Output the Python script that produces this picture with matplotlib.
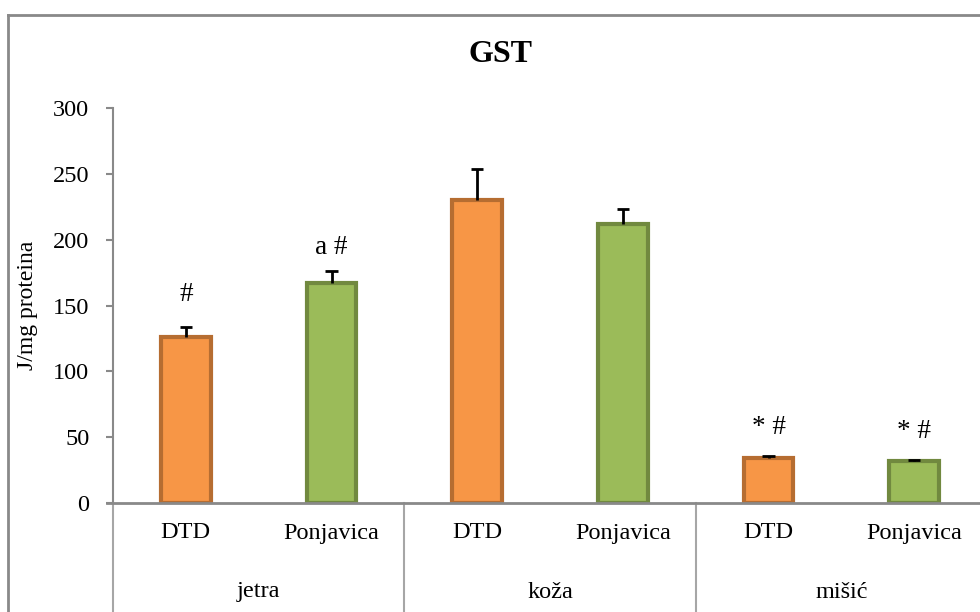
import matplotlib
matplotlib.use("Agg")
import matplotlib.pyplot as plt
from matplotlib.transforms import blended_transform_factory
from matplotlib.lines import Line2D

plt.rcParams['font.family'] = ['Liberation Serif', 'DejaVu Serif']

groups = ['jetra', 'koža', 'mišić']
sites = ['DTD', 'Ponjavica', 'DTD', 'Ponjavica', 'DTD', 'Ponjavica']
values = [126, 167, 230, 212, 34, 32]
errors = [8, 9, 24, 11, 2, 1]
marks = ['#', 'a #', '', '', '* #', '* #']
mark_y = [158, 194, None, None, 57, 54]
yticks = [0, 50, 100, 150, 200, 250, 300]

fills = ['#F79646', '#9BBB59'] * 3
edges = ['#B66D31', '#71893F'] * 3

W, H = 980, 612
fig = plt.figure(figsize=(W / 100, H / 100), dpi=100)
ax = fig.add_axes([113 / W, (H - 503) / H, (987 - 113) / W, 395 / H])

x = list(range(len(values)))
ax.bar(x, values, width=0.34, color=fills, edgecolor=edges, linewidth=3, zorder=2)
tops = [v + e for v, e in zip(values, errors)]
cap = 0.042
ax.vlines(x, values, tops, colors='black', linewidth=2, zorder=3)
ax.hlines(tops, [xi - cap for xi in x], [xi + cap for xi in x], colors='black',
          linewidth=2, zorder=3)

for xi, m, my in zip(x, marks, mark_y):
    if m:
        ax.text(xi, my, m, ha='center', va='center', fontsize=19.5)

ax.set_xlim(-0.5, 5.5)
ax.set_ylim(0, 300)
ax.set_yticks(yticks)
ax.set_yticklabels([str(t) for t in yticks], fontsize=17.5)
ax.tick_params(axis='y', direction='out', length=5, width=1.5, color='#898989', pad=12)
ax.set_xticks([])

for s in ['top', 'right']:
    ax.spines[s].set_visible(False)
ax.spines['left'].set_color('#898989')
ax.spines['left'].set_linewidth(1.5)
ax.spines['bottom'].set_color('#898989')
ax.spines['bottom'].set_linewidth(2)
ax.spines['bottom'].set_bounds(-0.5 - 6 / 145.5, 5.5)

ax.set_ylabel('J/mg proteina', fontsize=17, va='center')
ax.yaxis.set_label_coords((28 - 113) / 874, 0.5)

trans = blended_transform_factory(ax.transData, ax.transAxes)
for xi, s in zip(x, sites):
    ax.text(xi, -30 / 395, s, transform=trans, ha='center', va='center', fontsize=17.5)
for gi, g in enumerate(groups):
    ax.text(2 * gi + 0.5, -89 / 395, g, transform=trans, ha='center', va='center', fontsize=17.5)
for sx in [-0.5, 1.5, 3.5]:
    ax.add_line(Line2D([sx, sx], [0, -0.35], transform=trans, color='#A6A6A6',
                       linewidth=1.5, clip_on=False))

fig.text(500 / W, 1 - 55 / H, 'GST', ha='center', va='center', fontsize=23, fontweight='bold')

fig.add_artist(Line2D([8 / W, 8 / W], [0, 1 - 15 / H], transform=fig.transFigure,
                      color='#898989', linewidth=2))
fig.add_artist(Line2D([8 / W, 1], [1 - 15 / H, 1 - 15 / H], transform=fig.transFigure,
                      color='#898989', linewidth=2))

fig.savefig('out.png', dpi=100)
